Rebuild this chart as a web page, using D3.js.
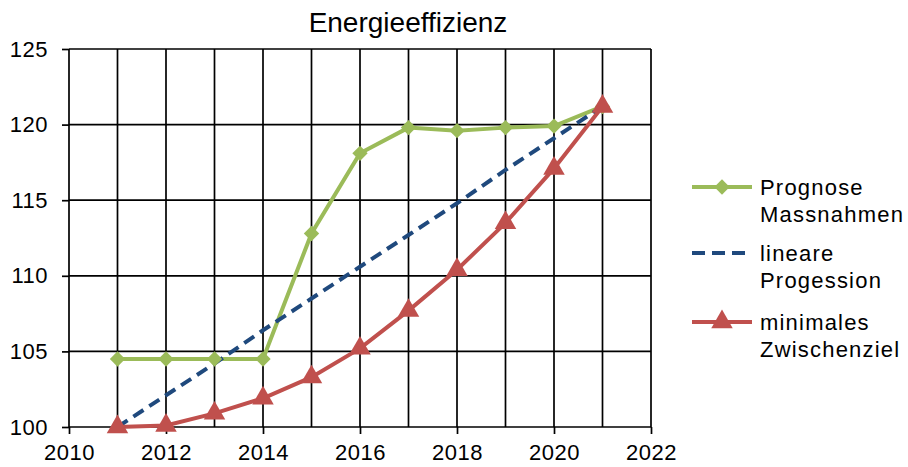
<!DOCTYPE html>
<html>
<head>
<meta charset="utf-8">
<script src="https://cdn.jsdelivr.net/npm/d3@7"></script>
<style>
  body { margin: 0; background: #fff; }
  text { font-family: "Liberation Sans", Arial, sans-serif; fill: #000; }
</style>
</head>
<body>
<script>
// data
const years = [2011, 2012, 2013, 2014, 2015, 2016, 2017, 2018, 2019, 2020, 2021];
const prognose = [104.5, 104.5, 104.5, 104.5, 112.8, 118.1, 119.8, 119.6, 119.8, 119.9, 121.2];
const linear = [100, 102.1, 104.2, 106.4, 108.5, 110.6, 112.7, 114.8, 117.0, 119.1, 121.2];
const minimal = [100, 100.1, 100.9, 101.9, 103.3, 105.2, 107.7, 110.4, 113.5, 117.1, 121.2];
const xTicks = [2010, 2012, 2014, 2016, 2018, 2020, 2022];
const xGrid = [2010, 2011, 2012, 2013, 2014, 2015, 2016, 2017, 2018, 2019, 2020, 2021, 2022];
const yTicks = [100, 105, 110, 115, 120, 125];

const series = [
  {name: ['Prognose', 'Massnahmen'], values: prognose, color: '#9BBB59', dash: null, marker: 'diamond'},
  {name: ['lineare', 'Progession'], values: linear, color: '#1F497D', dash: '12,7', marker: null},
  {name: ['minimales', 'Zwischenziel'], values: minimal, color: '#C0504D', dash: null, marker: 'triangle'}
];

const W = 908, H = 467;
const margin = {top: 49, left: 69, right: 257, bottom: 40};
const plotW = W - margin.left - margin.right;
const plotH = H - margin.top - margin.bottom;

const svg = d3.select('body').append('svg')
  .attr('width', W)
  .attr('height', H);

svg.append('text')
  .attr('x', 408)
  .attr('y', 32)
  .attr('text-anchor', 'middle')
  .style('font-size', '28px')
  .text('Energieeffizienz');

const g = svg.append('g')
  .attr('transform', `translate(${margin.left},${margin.top})`);

const x = d3.scaleLinear().domain([2010, 2022]).range([0, plotW]);
const y = d3.scaleLinear().domain([100, 125]).range([plotH, 0]);

// grid
g.selectAll('.vgrid')
  .data(xGrid)
  .enter().append('line')
  .attr('x1', d => x(d)).attr('x2', d => x(d))
  .attr('y1', 0).attr('y2', plotH)
  .attr('stroke', '#000').attr('stroke-width', 1.7);

g.selectAll('.hgrid')
  .data(yTicks)
  .enter().append('line')
  .attr('x1', 0).attr('x2', plotW)
  .attr('y1', d => y(d)).attr('y2', d => y(d))
  .attr('stroke', '#000').attr('stroke-width', 1.7);

// axes
const xAxis = g.append('g')
  .attr('transform', `translate(0,${plotH})`)
  .call(d3.axisBottom(x).tickValues(xTicks).tickFormat(d3.format('d')).tickSize(7).tickPadding(10));
const yAxis = g.append('g')
  .call(d3.axisLeft(y).tickValues(yTicks).tickSize(7).tickPadding(14));

[xAxis, yAxis].forEach(a => {
  a.select('.domain').remove();
  a.selectAll('line').attr('stroke', '#000').attr('stroke-width', 1.7);
  a.selectAll('text').style('font-size', '22px').style('letter-spacing', '0.5px').attr('fill', '#000');
});

// lines
const line = d3.line()
  .x((d, i) => x(years[i]))
  .y(d => y(d));

series.forEach(s => {
  g.append('path')
    .datum(s.values)
    .attr('fill', 'none')
    .attr('stroke', s.color)
    .attr('stroke-width', 4)
    .attr('stroke-dasharray', s.dash)
    .attr('d', line);
});

const diamond = d3.symbol().type(d3.symbolDiamond2).size(150);
const triangle = d3.symbol().type(d3.symbolTriangle).size(200);

series.forEach(s => {
  if (!s.marker) return;
  g.selectAll('.m-' + s.marker)
    .data(s.values)
    .enter().append('path')
    .attr('transform', (d, i) => `translate(${x(years[i])},${y(d)})`)
    .attr('d', s.marker === 'diamond' ? diamond : triangle)
    .attr('fill', s.color);
});

// legend
const legend = svg.append('g').attr('transform', 'translate(692,187)');
const legendRows = [0, 66, 135];

series.forEach((s, i) => {
  const row = legend.append('g').attr('transform', `translate(0,${legendRows[i]})`);
  row.append('line')
    .attr('x1', 0).attr('x2', 60)
    .attr('y1', 0).attr('y2', 0)
    .attr('stroke', s.color)
    .attr('stroke-width', 4)
    .attr('stroke-dasharray', s.dash ? '13,7' : null);
  if (s.marker) {
    row.append('path')
      .attr('transform', 'translate(30,0)')
      .attr('d', s.marker === 'diamond' ? diamond : triangle)
      .attr('fill', s.color);
  }
  s.name.forEach((t, j) => {
    row.append('text')
      .attr('x', 68)
      .attr('y', j * 27)
      .attr('dy', '0.35em')
      .style('font-size', '22px')
      .style('letter-spacing', '1.2px')
      .text(t);
  });
});
</script>
</body>
</html>
